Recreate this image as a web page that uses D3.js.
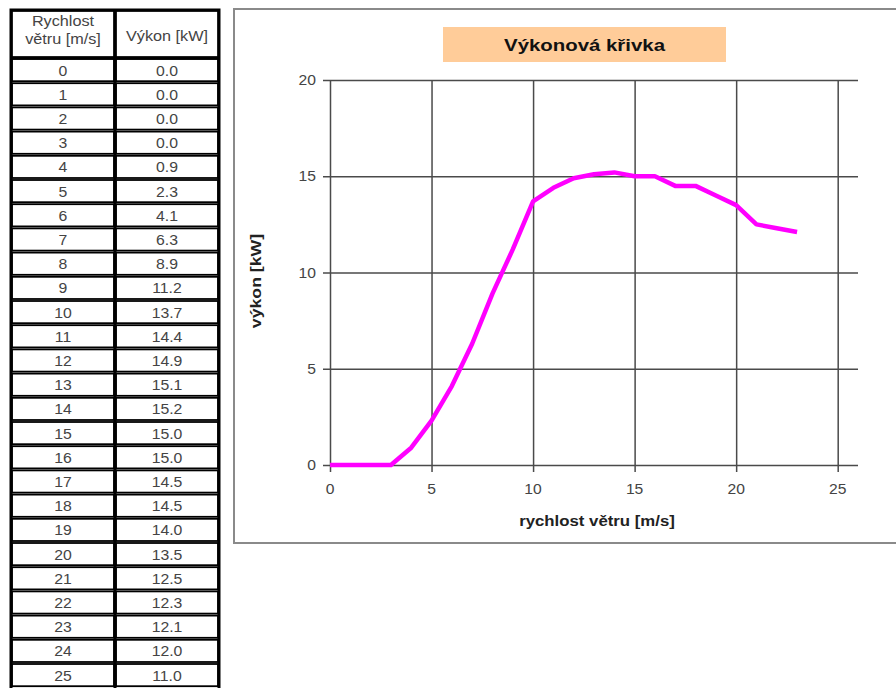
<!DOCTYPE html>
<html>
<head>
<meta charset="utf-8">
<script src="https://cdn.jsdelivr.net/npm/d3@7"></script>
<style>
  body { margin: 0; background: #fff; }
  svg { display: block; font-family: "Liberation Sans", Arial, sans-serif; }
</style>
</head>
<body>
<div id="vis"></div>
<script>
var windSpeed = [0,1,2,3,4,5,6,7,8,9,10,11,12,13,14,15,16,17,18,19,20,21,22,23,24,25];
var power = [0.0,0.0,0.0,0.0,0.9,2.3,4.1,6.3,8.9,11.2,13.7,14.4,14.9,15.1,15.2,15.0,15.0,14.5,14.5,14.0,13.5,12.5,12.3,12.1,12.0,11.0];
var plotUntil = 23; // the curve stops at 23 m/s
var xTicks = [0,5,10,15,20,25];
var yTicks = [0,5,10,15,20];
var headers = [["Rychlost", "větru [m/s]"], ["Výkon [kW]"]];
var chartTitle = "Výkonová křivka";
var xTitle = "rychlost větru [m/s]";
var yTitle = "výkon [kW]";

var width = 896, height = 688;

var svg = d3.select('#vis').append('svg')
	.attr('width', width)
	.attr('height', height);

// text that is a bit wider than plain Arial, like in the original screenshot
function label(g, x, y, txt, size, stretch, extra) {
	var t = g.append('text')
		.attr('transform', 'translate(' + x + ',' + y + ')' + (extra || '') + ' scale(' + stretch + ',1)')
		.attr('text-anchor', 'middle')
		.attr('font-size', size)
		.attr('fill', '#444')
		.text(txt);
	return t;
}

//---- table on the left
var colX = [11, 115, 219];
var headTop = 10, headBottom = 58, rowH = 24.2;
var rowY = d3.scaleLinear().domain([0, 1]).range([headBottom, headBottom + rowH]);

var table = svg.append('g');

// header cells
[0, 1].forEach(function(c) {
	table.append('rect')
		.attr('x', colX[c] + 1).attr('y', headTop + 1)
		.attr('width', colX[c+1] - colX[c] - 2).attr('height', headBottom - headTop - 2)
		.attr('fill', '#fff').attr('stroke', '#000').attr('stroke-width', 1.5);
	var lines = headers[c];
	var cx = (colX[c] + colX[c+1]) / 2;
	lines.forEach(function(t, i) {
		label(table, cx, lines.length == 1 ? 41 : 26 + i * 18, t, 14.5, 1.12);
	});
});

// body cells
windSpeed.forEach(function(s, i) {
	var vals = [String(s), power[i].toFixed(1)];
	[0, 1].forEach(function(c) {
		table.append('rect')
			.attr('x', colX[c] + 1).attr('y', rowY(i) + 1)
			.attr('width', colX[c+1] - colX[c] - 2).attr('height', rowH - 2)
			.attr('fill', '#fff').attr('stroke', '#000').attr('stroke-width', 1.8);
		label(table, (colX[c] + colX[c+1]) / 2, rowY(i) + rowH / 2 + 5.5, vals[c], 15.5, 1.02);
	});
});

// outer frame of the table
table.append('rect')
	.attr('x', colX[0]).attr('y', headTop)
	.attr('width', colX[2] - colX[0]).attr('height', height)
	.attr('fill', 'none').attr('stroke', '#000').attr('stroke-width', 3);
table.append('line')
	.attr('x1', colX[0]).attr('x2', colX[2])
	.attr('y1', headBottom).attr('y2', headBottom)
	.attr('stroke', '#000').attr('stroke-width', 3);
table.append('line')
	.attr('x1', colX[1]).attr('x2', colX[1])
	.attr('y1', headTop).attr('y2', height)
	.attr('stroke', '#000').attr('stroke-width', 3);

//---- chart on the right
var chart = svg.append('g');

chart.append('rect')
	.attr('x', 234).attr('y', 9)
	.attr('width', 700).attr('height', 534)
	.attr('fill', '#fff')
	.attr('stroke', '#8a8a8a').attr('stroke-width', 2);

// title box
chart.append('rect')
	.attr('x', 443).attr('y', 27)
	.attr('width', 283).attr('height', 35)
	.attr('fill', '#ffcc99');
label(chart, 584.5, 51, chartTitle, 17, 1.2)
	.attr('font-weight', 'bold')
	.attr('fill', '#111');

var x = d3.scaleLinear().domain([0, 26]).range([330, 858]);
var y = d3.scaleLinear().domain([0, 20]).range([465, 80]);

var gridColor = '#4a4a4a';

// vertical grid + ticks
chart.append('g')
	.attr('transform', 'translate(0,' + y(0) + ')')
	.call(d3.axisBottom(x).tickValues(xTicks).tickSizeOuter(0).tickFormat(''))
	.call(function(g) {
		g.select('.domain').remove();
		g.selectAll('.tick line').attr('stroke', gridColor).attr('stroke-width', 1.5)
			.attr('y1', 7).attr('y2', y(20) - y(0));
	});

// horizontal grid + ticks
chart.append('g')
	.attr('transform', 'translate(' + x(0) + ',0)')
	.call(d3.axisLeft(y).tickValues(yTicks).tickSizeOuter(0).tickFormat(''))
	.call(function(g) {
		g.select('.domain').remove();
		g.selectAll('.tick line').attr('stroke', gridColor).attr('stroke-width', 1.5)
			.attr('x1', -7).attr('x2', x(26) - x(0));
	});

// tick labels
xTicks.forEach(function(d) {
	label(chart, x(d), 494, d, 14.5, 1.08);
});
yTicks.forEach(function(d) {
	label(chart, 316, y(d) + 5, d, 14.5, 1.08).attr('text-anchor', 'end');
});

// axis titles
label(chart, 597, 526, xTitle, 15, 1.12)
	.attr('font-weight', 'bold')
	.attr('fill', '#222');
label(chart, 261, 281, yTitle, 15, 1.18, ' rotate(-90)')
	.attr('font-weight', 'bold')
	.attr('fill', '#222');

// power curve
var pts = windSpeed.map(function(s, i) { return {s: s, p: power[i]}; })
	.filter(function(d) { return d.s <= plotUntil; });

var line = d3.line()
	.x(function(d) { return x(d.s); })
	.y(function(d) { return y(d.p); });

chart.append('path')
	.datum(pts)
	.attr('d', line)
	.attr('fill', 'none')
	.attr('stroke', '#ff00ff')
	.attr('stroke-width', 4.5)
	.attr('stroke-linejoin', 'round');
</script>
</body>
</html>
